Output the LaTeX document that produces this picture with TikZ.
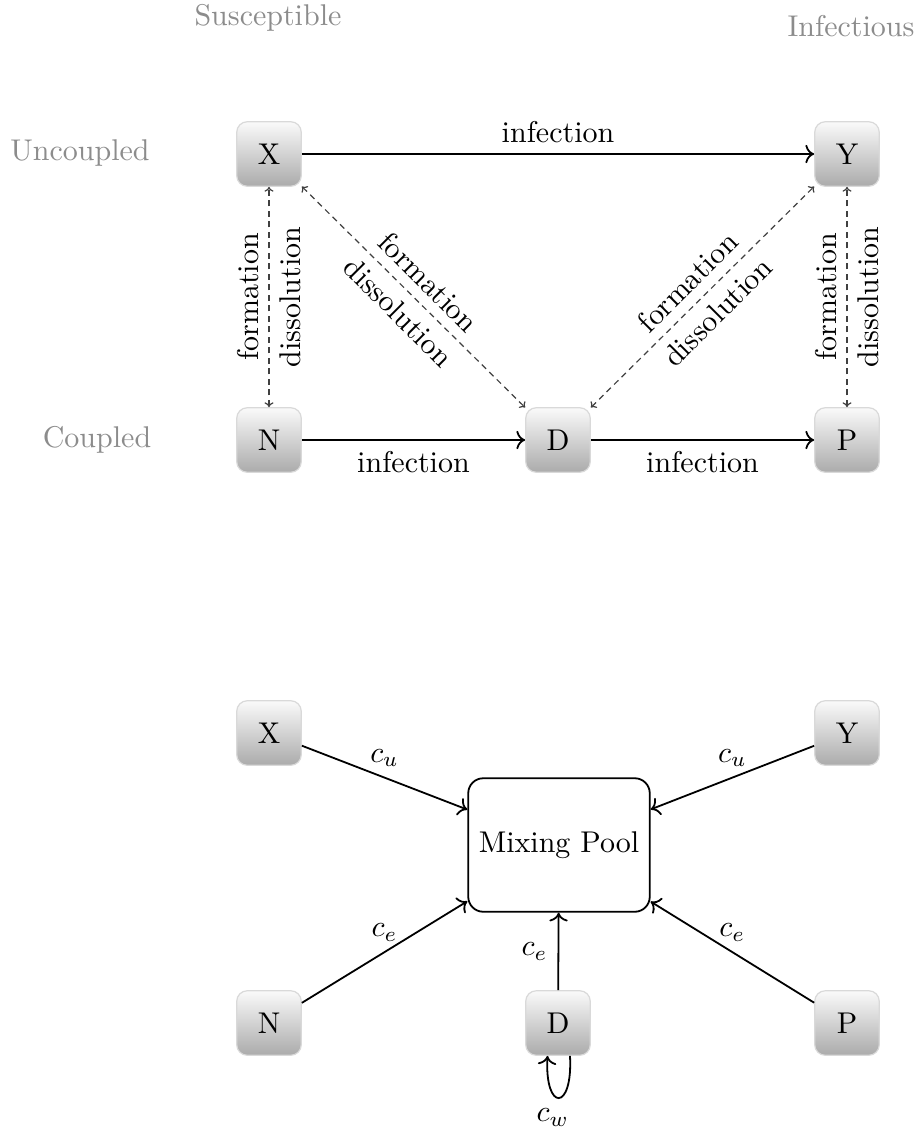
\documentclass[tikz,border=0pt]{standalone}
\usetikzlibrary{arrows.meta}

\tikzset{
  state/.style={draw=black!15, rounded corners=3.5pt, top color=black!2, bottom color=black!33,
    minimum width=21.5pt, minimum height=21.5pt, inner sep=0pt},
  flow/.style={->, semithick},
  bond/.style={{To[length=1.6pt,width=3pt]}-{To[length=1.6pt,width=3pt]}, draw=black!75, thin,
    dash pattern=on 2pt off 1.5pt},
  group/.style={text=black!45},
}

\begin{document}
\begin{tikzpicture}[x=0.3333pt,y=0.3333pt,yscale=-1,xscale=1]
    \useasboundingbox (0,0) rectangle (917,1130);

    % Text Node
    \node [group] (lsus) at (268,18) {Susceptible};
    \node [group] (linf) at (851,26) {Infectious};
    \node [group] (lunc) at (80,153) {Uncoupled};
    \node [group] (lcou) at (97,440) {Coupled};

    %Shape: states, upper diagram
    \node [state] (X) at (269,154) {X};
    \node [state] (Y) at (847,154) {Y};
    \node [state] (N) at (269,440) {N};
    \node [state] (D) at (558,440) {D};
    \node [state] (P) at (847,440) {P};

    %Straight Lines: infection
    \draw [flow] (X) -- node [above] {infection} (Y);
    \draw [flow] (N) -- node [below] {infection} (D);
    \draw [flow] (D) -- node [below] {infection} (P);

    %Straight Lines: partnerships
    \draw [bond] (N) -- node [rotate=90,above] {formation} node [rotate=90,below] {dissolution} (X);
    \draw [bond] (P) -- node [rotate=90,above] {formation} node [rotate=90,below] {dissolution} (Y);
    \draw [bond] (X) -- node [rotate=-45,above] {formation} node [rotate=-45,below] {dissolution} (D);
    \draw [bond] (D) -- node [rotate=45,above] {formation} node [rotate=45,below] {dissolution} (Y);

    %Shape: states, lower diagram
    \node [state] (X2) at (269,733) {X};
    \node [state] (Y2) at (847,733) {Y};
    \node [state] (N2) at (269,1023) {N};
    \node [state] (D2) at (558,1023) {D};
    \node [state] (P2) at (847,1023) {P};
    \node [draw, semithick, rounded corners=5pt, minimum width=60.5pt, minimum height=44.5pt] (pool) at (559,845) {Mixing Pool};

    %Straight Lines: contacts
    \draw [flow] (X2) -- node [above] {$c_u$} (pool);
    \draw [flow] (Y2) -- node [above] {$c_u$} (pool);
    \draw [flow] (N2) -- node [above] {$c_e$} (pool);
    \draw [flow] (P2) -- node [above] {$c_e$} (pool);
    \draw [flow] (D2) -- node [left] {$c_e$} (pool);
    %Curve: within-couple contacts
    \draw [flow] ([xshift=4pt]D2.south) .. controls +(3,56) and +(-3,56) .. ([xshift=-3.5pt]D2.south) node [pos=0.5,below,xshift=-2pt] {$c_w$};

\end{tikzpicture}
\end{document}
